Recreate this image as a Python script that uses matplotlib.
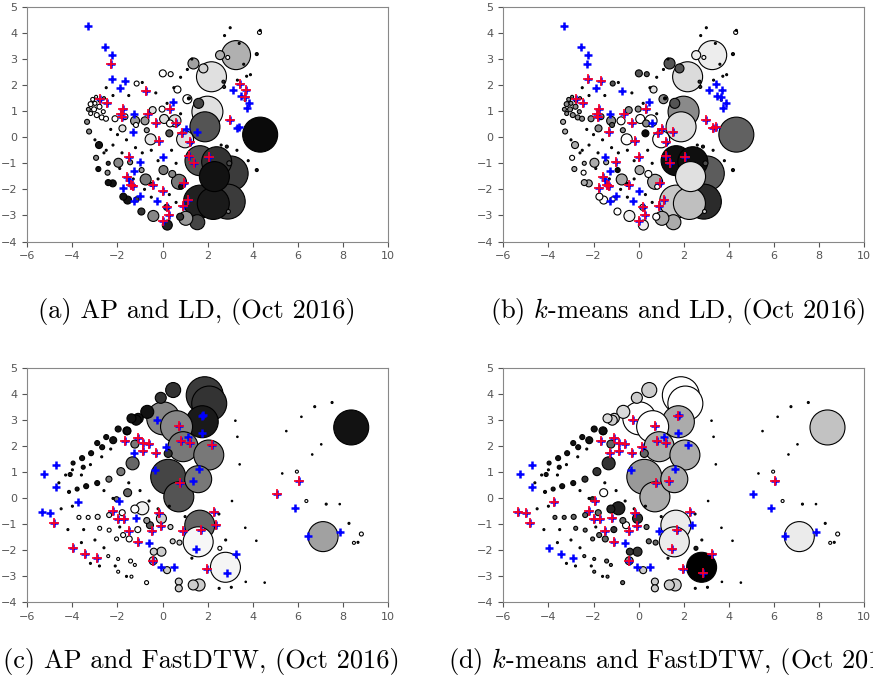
import numpy as np
import matplotlib
matplotlib.use("Agg")
import matplotlib.pyplot as plt

plt.rcParams['mathtext.fontset'] = 'cm'

# ---------------- LD embedding (panels a, b) ----------------
ld_x = [4.33, 3.26, 2.55, 2.17, 1.37, 1.81, 1.99, 1.88, 1.60, 1.10, 0.66, 0.01, 0.36, -1.15,
        -0.44, -0.02, 0.07, 0.55, 0.33, -1.22, -0.78, -1.18, -1.78, -0.70, 0.30, -0.53, 1.00,
        1.66, 2.40, 3.02, 2.30, 1.66, 2.25, 2.89, 0.73, 0.82, 1.03, 1.54, 0.78, 0.21, 0.18,
        -0.41, -0.94, -0.75, -0.48, 0.04, 0.43, -0.93, -1.96, -1.44, -2.41, -2.44, -2.85, -2.95,
        -2.82, -2.21, -2.41, -1.74, -1.55, -1.15, -3.35, -3.26,
        -3.10, -3.19, -3.00, -2.80, -3.04, -3.19, -2.92, -2.70, -2.51, -2.11, -1.67, -2.78, -2.63,
        -3.29, -2.95, -2.60,
        2.89, 1.17, 4.30, 4.33, 4.18, 4.18, 2.96, 2.92, 2.70, 2.73, 2.85,
        -2.5, -2.2, -1.5, -0.9, -0.3, 0.2, 0.5, 0.8, 1.1, 1.3, -2.0, -1.6, -1.2, -0.9, -2.5,
        -2.2, -1.8, -1.3, -0.5, -0.2, 0.4, 0.6, -0.2, -0.8, -0.5, 0.3, 0.6, -1.9, -2.6, -3.0,
        -2.3, 3.0, 2.75, 3.4, 3.6, 3.9, 2.6, 3.3, 3.8, 0.8, 3.32, 3.73, 3.66, 3.35]
ld_y = [0.10, 3.15, 3.15, 2.32, 2.83, 2.64, 0.98, 0.40, 1.30, 1.46, 1.83, 2.45, 2.42, 2.06,
        1.04, 1.08, 0.70, 0.63, 0.53, 0.63, 0.63, 0.47, 0.34, 0.27, 0.15, -0.08, -0.08,
        -0.90, -0.94, -1.39, -1.51, -2.47, -2.54, -2.47, -1.71, -1.90, -3.11, -3.26, -3.05, -3.37, -2.69,
        -3.02, -2.85, -1.62, -1.81, -1.26, -1.41, -1.26, -0.98, -0.96, -1.00, -1.36, -1.22, -0.79,
        -0.30, -1.77, -1.74, -2.28, -2.41, -2.38, 0.59, 0.22,
        1.45, 1.27, 1.30, 1.17, 1.07, 0.91, 0.85, 0.76, 0.71, 0.71, 0.79, 1.42, 0.98,
        1.07, 1.55, 1.50,
        3.06, 1.49, 4.02, 4.10, 3.19, -1.26, -1.00, -2.85, 2.13, 1.93, -0.36,
        1.9, 1.6, 1.6, 2.1, 1.7, 1.3, 1.9, 2.3, 2.6, 3.0, 0.1, -0.1, -0.4, -0.6, -0.5,
        -0.3, -0.6, -1.6, -0.5, -0.9, -0.5, -1.0, -1.6, -2.0, -2.3, -2.2, -2.5, -1.2, -0.6, -0.1,
        0.3, 4.2, 3.9, 3.6, 2.8, 2.4, -0.3, -0.5, -0.9, 0.9, 2.19, 2.34, 1.42, 0.33]
ld_weight = [35, 29, 9, 30, 11, 9, 31, 30, 10, 9, 7, 7, 5, 5,
             7, 6, 9, 12, 7, 9, 8, 5, 7, 5, 7, 11, 17,
             30, 30, 35, 30, 33, 32, 35, 15, 5, 14, 15, 7, 10, 6,
             11, 7, 11, 4, 9, 7, 5, 9, 5, 4, 5, 5, 5,
             7, 7, 6, 7, 8, 5, 5, 5,
             4, 5, 4, 5, 5, 4, 5, 5, 5, 6, 6, 4, 4,
             4, 3, 3,
             4, 3, 4, 2, 3, 3, 5, 4, 3, 3, 3,
             2, 2, 2, 2, 2, 2, 2, 2, 2, 2, 2, 2, 2, 2, 2,
             2, 2, 2, 2, 2, 2, 2, 2, 2, 2, 2, 2, 2, 2, 2,
             2, 2, 2, 2, 2, 2, 2, 2, 2, 2, 2, 2, 2, 2]
# gray level of each cluster (0 = black, 1 = white)
ld_gray_ap = [0.04, 0.69, 0.69, 0.88, 0.63, 0.82, 0.88, 0.33, 0.27, 1.0, 1.0, 1.0, 1.0, 1.0,
              0.87, 1.0, 0.87, 0.87, 1.0, 0.6, 0.6, 1.0, 0.87, 0.6, 0.33, 0.9, 0.88,
              0.33, 0.2, 0.23, 0.07, 0.13, 0.1, 0.23, 0.47, 0.07, 0.6, 0.27, 0.2, 0.13, 0.27,
              0.53, 0.2, 0.47, 0.27, 0.47, 0.53, 0.6, 0.53, 0.53, 0.2, 0.53, 0.07, 0.53,
              0.07, 0.07, 0.07, 0.07, 0.07, 0.27, 0.53, 0.53,
              1.0, 1.0, 1.0, 1.0, 1.0, 1.0, 1.0, 1.0, 1.0, 1.0, 1.0, 1.0, 1.0,
              0.6, 1.0, 0.6,
              1.0, 0.0, 1.0, 0.0, 0.1, 0.1, 0.3, 0.5, 0.2, 0.2, 0.1,
              0.1, 0.1, 0.1, 0.1, 0.1, 0.1, 0.1, 0.1, 0.1, 0.1, 0.1, 0.1, 0.1, 0.1, 0.1,
              0.1, 0.1, 0.1, 0.1, 0.1, 0.1, 0.1, 0.1, 0.1, 0.1, 0.1, 0.1, 0.1, 0.1, 0.1,
              0.1, 0.1, 0.1, 0.1, 0.1, 0.1, 0.1, 0.1, 0.1, 0.1, 0.1, 0.1, 0.1, 0.1]
ld_gray_km = [0.38, 0.93, 0.93, 0.86, 0.33, 0.33, 0.54, 0.86, 0.33, 0.54, 0.88, 0.33, 0.33, 0.33,
              0.54, 0.54, 1.0, 1.0, 0.54, 0.54, 1.0, 0.33, 0.54, 0.54, 0.04, 1.0, 1.0,
              0.06, 0.06, 0.36, 0.88, 0.78, 0.75, 0.17, 0.67, 1.0, 0.67, 0.67, 1.0, 0.94, 1.0,
              0.94, 1.0, 0.67, 0.04, 0.67, 1.0, 0.04, 0.67, 0.67, 0.67, 1.0, 0.67, 1.0,
              0.67, 0.67, 0.67, 1.0, 1.0, 1.0, 0.67, 0.67,
              0.55, 0.55, 0.55, 0.55, 0.55, 0.55, 0.55, 0.55, 0.55, 0.55, 0.55, 0.55, 0.55,
              0.55, 0.55, 0.55,
              1.0, 0.0, 1.0, 0.0, 0.1, 0.1, 0.3, 0.8, 0.2, 0.2, 0.1,
              0.1, 0.1, 0.1, 0.1, 0.1, 0.1, 0.1, 0.1, 0.1, 0.1, 0.1, 0.1, 0.1, 0.1, 0.1,
              0.1, 0.1, 0.1, 0.1, 0.1, 0.1, 0.1, 0.1, 0.1, 0.1, 0.1, 0.1, 0.1, 0.1, 0.1,
              0.1, 0.1, 0.1, 0.1, 0.1, 0.1, 0.1, 0.1, 0.1, 0.1, 0.1, 0.1, 0.1, 0.1]

ld_mark_x = [-3.29, -2.55, -2.23, -2.29, -2.23, -1.65, -1.89, -2.78, -2.45, -1.77, -1.86, -1.78,
             -0.75, -1.27, -1.33, -0.66, -0.30, 0.33, 0.45, 0.60, 0.85, 1.04, 1.54, 1.22, -0.14,
             0.01, -1.47, -0.99, -1.27, -1.59, -1.47, -1.40, -1.30, -1.74, -1.27, -1.00, -0.23,
             -0.41, 0.01, 0.95, 1.14, 0.91, 0.18, 0.30, 0.01, 1.19, 1.40, 2.06, 2.99, 3.29, 3.41,
             3.14, 3.47, 3.44, 3.69, 3.66, 3.85, 3.76]
ld_mark_y = [4.27, 3.47, 3.17, 2.80, 2.25, 2.16, 1.87, 1.45, 1.32, 1.07, 0.91, 0.79,
             1.77, 0.89, 0.21, 0.89, 0.56, 1.08, 1.35, 0.56, 0.17, 0.31, 0.21, -0.17, -0.13,
             -0.75, -0.75, -0.96, -1.28, -1.51, -1.64, -1.83, -1.87, -1.96, -2.43, -2.25, -2.43,
             -1.83, -2.06, -1.74, -2.41, -2.62, -2.69, -2.98, -3.20, -0.72, -1.00, -0.75, 0.66, 0.36, 0.40,
             1.83, 1.58, 2.04, 1.83, 1.55, 1.32, 1.14]
ld_red_ap = [0, 0, 0, 1, 0, 0, 0, 1, 1, 1, 1, 1,
             1, 0, 0, 1, 1, 1, 0, 1, 1, 0, 0, 1, 1,
             0, 1, 0, 0, 1, 0, 1, 1, 0, 0, 0, 0,
             1, 1, 1, 1, 1, 1, 1, 1, 1, 1, 1, 1, 0, 0,
             0, 0, 1, 1, 1, 0, 0]
ld_red_km = [0, 0, 0, 0, 1, 1, 0, 1, 1, 1, 1, 1,
             0, 0, 1, 1, 1, 1, 0, 0, 1, 1, 1, 1, 1,
             1, 0, 1, 0, 1, 0, 1, 1, 1, 0, 0, 0,
             1, 0, 1, 1, 1, 1, 1, 1, 1, 1, 1, 1, 1, 1,
             0, 0, 0, 0, 0, 0, 0]

# ---------------- FastDTW embedding (panels c, d) ----------------
dtw_x = [8.37, 7.12, 1.87, 2.07, 1.76, 0.03, 0.62, 0.91, 2.05, 1.58, 0.25, 0.72, 1.65, 1.58, 2.79,
         0.47, -0.08, -0.68, -1.08, -1.38, -1.58, -0.90, -1.23, -0.05, -0.56, -0.05, -0.39, -0.42,
         0.20, 1.36, 1.62, 0.72, 0.72, -1.33, -1.55, -1.85, -1.23, -2.38, -2.04, 0.25,
         -1.97, -1.57, -2.19, -2.50, -2.90, -2.68, -3.17, -3.57, -3.97, -3.39, -3.79, -2.90, -4.15,
         -4.10, -3.52, -1.17,
         -3.71, -3.30, -2.88, -2.37, -1.79, -2.79, -2.37, -2.04, -1.75, -1.48, -1.97, -1.42, -1.23,
         -0.71, -1.38, -2.41, -1.97, -1.10, -0.70, 0.35, 0.45, 0.75,
         6.75, 7.52, 6.16, 5.49, 7.04, 6.64, 5.31, 5.96, 6.38, 7.26, 7.86, 8.27, 8.82, 8.49, 8.67,
         4.53, 4.16, 3.67, 3.69, 3.05, 2.51, 3.08, 3.32, 3.23, 3.42, 2.54,
         -4.6, -4.3, -4.0, -3.6, -3.2, -2.7, -2.3, -4.5, -4.0, -3.5, -3.0, -2.6, -2.1, -1.6,
         -4.2, -3.6, -3.2, -2.8, -1.9, -2.6, -2.2, -1.5, -1.0, -0.6, -0.2, 0.3, 1.0, 1.3, 2.5, 2.8]
dtw_y = [2.73, -1.47, 3.97, 3.65, 2.95, 3.08, 2.76, 1.99, 1.67, 0.74, 0.83, 0.06, -1.03, -1.67, -2.65,
         4.17, 3.87, 3.33, 3.08, 3.08, 2.60, -0.38, -0.41, -0.77, -1.03, -2.05, -2.05, -2.40,
         -2.76, -3.33, -3.33, -3.20, -3.46, 1.35, 0.22, 1.03, 2.09, 0.74, -0.03, 1.73,
         2.67, 2.59, 2.24, 2.36, 2.13, 1.97, 1.74, 1.55, 1.36, 0.47, 0.36, 0.59, 0.25,
         0.92, 1.20, 3.01,
         -0.73, -0.73, -0.71, -0.64, -0.55, -1.15, -1.22, -1.56, -1.41, -1.56, -2.33, -2.41, -2.56,
         -3.24, -3.01, -2.22, -2.82, -1.20, -0.85, -1.10, -1.65, -1.70,
         3.53, 3.69, 3.14, 2.59, 2.08, 1.69, 0.96, 1.03, -0.10, -0.22, -0.22, -0.96, -1.37, -1.71, -1.69,
         -3.24, -1.63, -1.13, -3.21, -3.42, -3.46, -0.10, 2.37, 2.99, 1.31, -1.92,
         0.6, 0.9, 1.1, 0.9, 1.3, 1.6, 1.9, -0.4, -0.3, -1.2, -1.6, -1.9, -2.6, -3.0,
         -1.2, -1.7, -2.5, -2.6, -1.1, 0.3, 0.0, 0.6, 0.3, -0.1, -0.4, -0.3, -0.7, -2.3, -0.6, -1.6]
dtw_weight = [35, 30, 37, 35, 32, 33, 32, 30, 30, 27, 35, 30, 30, 30, 30,
              15, 11, 13, 10, 9, 8, 13, 8, 10, 7, 9, 7, 8,
              7, 10, 12, 7, 7, 13, 8, 8, 8, 6, 5, 8,
              6, 7, 7, 5, 5, 5, 5, 5, 4, 5, 4, 5, 3,
              4, 4, 10,
              4, 4, 5, 5, 6, 4, 4, 4, 5, 6, 3, 4, 3,
              4, 3, 3, 3, 6, 6, 5, 5, 5,
              2, 2, 1.5, 1.5, 1.5, 1.5, 1.5, 3, 3, 2, 1.5, 2, 4, 3, 2,
              1.5, 1.5, 1.5, 1.5, 2, 2, 1.5, 1.5, 1.5, 1.5, 4,
              2, 2, 2, 2, 2, 2, 2, 2, 2, 2, 2, 2, 2, 2,
              2, 2, 2, 2, 2, 2, 2, 2, 2, 2, 2, 2, 2, 2, 2, 2]
dtw_gray_ap = [0.07, 0.63, 0.23, 0.2, 0.1, 0.53, 0.53, 0.47, 0.47, 0.47, 0.27, 0.33, 0.4, 0.97, 0.96,
               0.2, 0.2, 0.07, 0.07, 0.07, 0.07, 0.95, 1.0, 0.8, 0.33, 0.8, 0.8, 0.8,
               0.8, 0.8, 0.8, 0.8, 0.8, 0.4, 0.4, 0.47, 0.47, 0.47, 0.47, 0.2,
               0.07, 0.07, 0.07, 0.07, 0.07, 0.07, 0.07, 0.07, 0.07, 0.07, 0.07, 0.07, 0.07,
               0.07, 0.07, 0.07,
               1.0, 1.0, 0.9, 0.9, 1.0, 1.0, 1.0, 1.0, 1.0, 1.0, 1.0, 1.0, 1.0,
               1.0, 1.0, 1.0, 1.0, 1.0, 0.6, 0.8, 0.8, 0.8,
               0.1, 0.1, 0.1, 0.1, 0.1, 0.1, 0.1, 1.0, 1.0, 0.1, 0.1, 0.1, 1.0, 1.0, 0.1,
               0.1, 0.1, 0.1, 0.1, 0.1, 0.1, 0.1, 0.1, 0.1, 0.1, 1.0,
               0.1, 0.1, 0.1, 0.1, 0.1, 0.1, 0.1, 0.1, 0.1, 0.1, 0.1, 0.1, 0.1, 0.1,
               0.1, 0.1, 0.1, 0.1, 0.1, 0.1, 0.1, 0.1, 0.1, 0.1, 0.1, 0.1, 0.1, 0.1, 0.1, 0.1]
dtw_gray_km = [0.76, 0.92, 1.0, 1.0, 0.67, 1.0, 1.0, 0.67, 0.67, 0.67, 0.6, 0.67, 0.92, 0.92, 0.0,
               0.8, 0.8, 0.85, 0.85, 0.85, 0.8, 0.13, 0.13, 0.2, 1.0, 0.2, 0.2, 0.53,
               0.8, 0.8, 0.8, 0.8, 0.8, 0.2, 1.0, 0.2, 0.4, 0.2, 0.2, 0.4,
               0.07, 0.07, 0.07, 0.07, 0.07, 0.07, 0.07, 0.07, 0.07, 0.07, 0.07, 0.07, 0.07,
               0.07, 0.07, 0.8,
               0.4, 0.4, 0.4, 0.4, 0.4, 0.4, 0.4, 0.4, 0.4, 0.4, 0.4, 0.4, 0.4,
               0.4, 0.4, 0.4, 0.4, 0.2, 0.4, 0.4, 0.4, 0.4,
               0.1, 0.1, 0.1, 0.1, 0.1, 0.1, 0.1, 1.0, 1.0, 0.1, 0.1, 0.1, 1.0, 1.0, 0.1,
               0.1, 0.1, 0.1, 0.1, 0.1, 0.1, 0.1, 0.1, 0.1, 0.1, 0.1,
               0.1, 0.1, 0.1, 0.1, 0.1, 0.1, 0.1, 0.1, 0.1, 0.1, 0.1, 0.1, 0.1, 0.1,
               0.1, 0.1, 0.1, 0.1, 0.1, 0.1, 0.1, 0.1, 0.1, 0.1, 0.1, 0.1, 0.1, 0.1, 0.1, 0.1]

dtw_mark_x = [-5.25, -4.73, -4.74, -5.34, -5.00, -4.82, -3.74, -3.96, -3.44, -2.93, -2.22, -1.97,
              -1.72, -1.94, -1.67, -1.08, -0.89, -0.89, -0.59, -0.31, -1.27, -0.33, -0.24, 0.17,
              1.13, 0.72, 0.81, 1.21, 2.18, 1.73, 1.80, 1.76, 1.61, 1.33, 0.77, -1.18, -1.49,
              -1.08, -0.45, -0.15, -0.09, 0.91, -0.59, -0.42, -0.06, 0.51, 1.50, 1.70, 2.29,
              2.36, 1.95, 3.25, 2.86, 5.08, 6.04, 5.86, 6.47, 7.86]
dtw_mark_y = [0.94, 1.28, 0.42, -0.54, -0.58, -0.96, -0.15, -1.92, -2.12, -2.28, -0.49, -0.79,
              -0.81, -0.10, 2.22, 2.33, 2.15, 1.83, 2.08, 1.76, 1.76, 1.09, 3.01, 1.99,
              2.35, 2.79, 2.22, 2.14, 2.05, 3.17, 3.21, 2.50, 1.13, 0.68, 0.60, -0.77, -1.27,
              -1.69, -1.24, -0.55, -1.05, -1.24, -1.73, -2.40, -2.63, -2.65, -1.95, -1.22, -0.51,
              -1.03, -2.72, -2.12, -2.88, 0.17, 0.68, -0.35, -1.44, -1.31]
dtw_red_ap = [0, 0, 0, 0, 0, 1, 0, 1, 1, 1, 1, 1,
              1, 0, 1, 1, 1, 1, 1, 1, 0, 0, 0, 0,
              0, 1, 1, 1, 1, 0, 0, 0, 0, 0, 1, 0, 1,
              1, 1, 1, 1, 1, 0, 1, 0, 0, 0, 1, 1,
              1, 1, 0, 0, 1, 1, 0, 0, 0]
dtw_red_km = [0, 0, 0, 1, 1, 1, 1, 0, 0, 0, 1, 1,
              1, 1, 1, 1, 1, 1, 1, 1, 1, 0, 1, 1,
              0, 1, 1, 1, 0, 1, 0, 0, 0, 1, 1, 1, 1,
              1, 1, 1, 1, 0, 0, 1, 0, 0, 1, 1, 1,
              0, 1, 1, 1, 0, 1, 0, 0, 0]

captions = [r"(a) AP and LD, (Oct 2016)",
            r"(b) $k$-means and LD, (Oct 2016)",
            r"(c) AP and FastDTW, (Oct 2016)",
            r"(d) $k$-means and FastDTW, (Oct 2016)"]

fig = plt.figure(figsize=(8.73, 6.90), dpi=100)
axes_rects = [[0.0313, 0.650, 0.4131, 0.340],
              [0.5765, 0.650, 0.4135, 0.340],
              [0.0313, 0.127, 0.4131, 0.339],
              [0.5765, 0.127, 0.4135, 0.339]]
panels = [(ld_x, ld_y, ld_weight, ld_gray_ap, ld_mark_x, ld_mark_y, ld_red_ap),
          (ld_x, ld_y, ld_weight, ld_gray_km, ld_mark_x, ld_mark_y, ld_red_km),
          (dtw_x, dtw_y, dtw_weight, dtw_gray_ap, dtw_mark_x, dtw_mark_y, dtw_red_ap),
          (dtw_x, dtw_y, dtw_weight, dtw_gray_km, dtw_mark_x, dtw_mark_y, dtw_red_km)]
cap_pos = [(0.0435, 0.549), (0.561, 0.549), (0.0034, 0.041), (0.513, 0.041)]

for rect, (px, py, pw, pg, mx, my, mr), cap, cp in zip(axes_rects, panels, captions, cap_pos):
    ax = fig.add_axes(rect)
    px = np.asarray(px); py = np.asarray(py); pw = np.asarray(pw, float); pg = np.asarray(pg)
    order = np.argsort(-pw, kind='stable')
    sizes = (pw * 0.72) ** 2
    cols = [(g, g, g) for g in pg[order]]
    ax.scatter(px[order], py[order], s=sizes[order], c=cols, edgecolors='black',
               linewidths=0.8, zorder=2)
    mx = np.asarray(mx); my = np.asarray(my); mr = np.asarray(mr, bool)
    ax.scatter(mx, my, marker='+', s=26, c='#0000ff', linewidths=1.8, zorder=3)
    ax.scatter(mx[mr], my[mr], marker='+', s=58, c='#ff0020', linewidths=1.2, zorder=4)
    ax.set_xlim(-6, 10)
    ax.set_ylim(-4, 5)
    ax.set_xticks(np.arange(-6, 11, 2))
    ax.set_yticks(np.arange(-4, 6, 1))
    ax.tick_params(labelsize=8, colors='#555555', length=3.5, width=0.8)
    for sp in ax.spines.values():
        sp.set_color('#888888')
    fig.text(cp[0], cp[1], cap, fontsize=19, family='cmr10', ha='left', va='center')

fig.savefig("out.png", dpi=100)
